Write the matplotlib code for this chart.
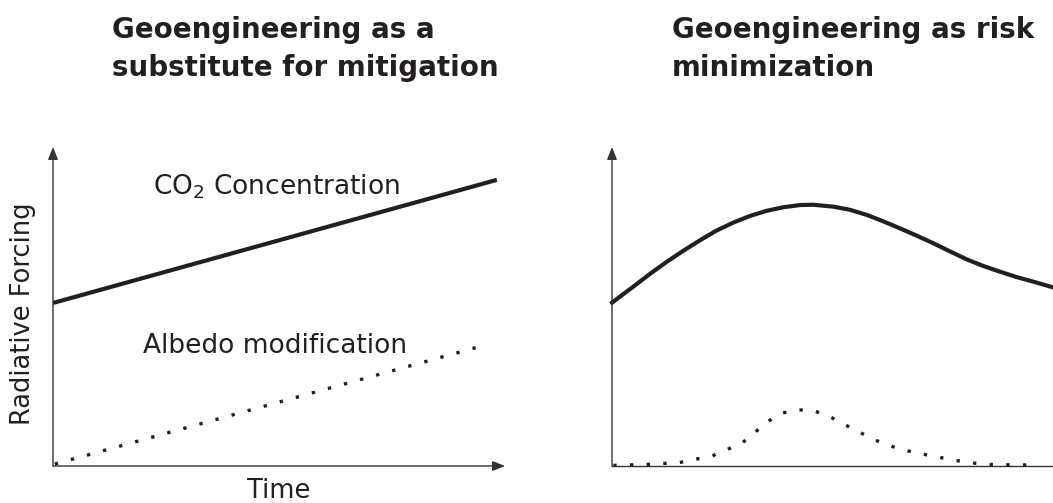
import matplotlib
matplotlib.use('Agg')
import matplotlib.pyplot as plt

plt.rcParams['font.family'] = ['DejaVu Sans']

ink = "#231f20"     # near-black used for text and curves
axis_col = "#333333"

# left panel: geoengineering as a substitute (straight lines)
sub_time = [0.0, 9.82]
sub_co2 = [5.11, 8.97]
sub_albedo_time = [0.04, 9.56]
sub_albedo = [0.06, 3.79]

# right panel: risk minimization
risk_time = [0.0, 0.48, 0.86, 1.24, 1.62, 2.00, 2.37, 2.75, 3.13, 3.51, 3.88,
             4.26, 4.56, 5.02, 5.40, 5.78, 6.15, 6.53, 6.91, 7.29, 7.66,
             8.04, 8.42, 8.80, 9.18, 9.55, 10.0]
risk_co2 = [5.12, 5.62, 6.02, 6.40, 6.75, 7.08, 7.38, 7.63, 7.84, 8.00, 8.11,
            8.18, 8.19, 8.13, 8.03, 7.87, 7.67, 7.45, 7.22, 6.98, 6.73,
            6.48, 6.27, 6.09, 5.92, 5.78, 5.60]
risk_albedo_time = [0.03, 0.79, 1.54, 2.28, 2.95, 3.53, 3.83, 4.21, 4.56,
                    4.92, 5.26, 5.60, 5.92, 6.26, 6.62, 6.98, 7.36, 7.72,
                    8.10, 8.47, 8.85, 9.59]
risk_albedo = [0.02, 0.05, 0.11, 0.32, 0.72, 1.39, 1.65, 1.76, 1.74, 1.56,
               1.31, 1.07, 0.84, 0.65, 0.50, 0.39, 0.29, 0.19, 0.11, 0.05,
               0.04, 0.03]

title_left = ["Geoengineering as a", "substitute for mitigation"]
title_right = ["Geoengineering as risk", "minimization"]

W, H = 1053, 503
fig = plt.figure(figsize=(W / 100, H / 100), dpi=100)


def px_axes(left, right, top, bottom):
    # build axes from pixel edges (top-left origin)
    return fig.add_axes([left / W, (H - bottom) / H, (right - left) / W, (bottom - top) / H])


def draw_frame(ax, x_arrow=True):
    ax.set_xlim(0, 10)
    ax.set_ylim(0, 10)
    ax.axis("off")
    arrow = dict(arrowstyle="-|>,head_length=0.75,head_width=0.3", color=axis_col, lw=1.0,
                 shrinkA=0, shrinkB=0)
    ax.annotate("", xy=(0, 10), xytext=(0, 0), xycoords="data", arrowprops=arrow,
                annotation_clip=False)
    if x_arrow:
        ax.annotate("", xy=(10, 0), xytext=(0, 0), xycoords="data", arrowprops=arrow,
                    annotation_clip=False)
    else:
        ax.plot([0, 10], [0, 0], color=axis_col, lw=1.0, clip_on=False)


def fig_title(x, lines):
    # two lines placed on their own baselines
    for line, base in zip(lines, [38, 76]):
        fig.text(x / W, 1 - base / H, line, fontsize=20, fontweight="bold", color=ink,
                 ha="left", va="baseline")


ax1 = px_axes(53, 505, 147, 466)
draw_frame(ax1)
ax1.plot(sub_time, sub_co2, color=ink, lw=3.0, solid_capstyle="butt", clip_on=False)
ax1.plot(sub_albedo_time, sub_albedo, color=ink, lw=2.4, ls=(0, (1, 4.0)), clip_on=False)
ax1.text(2.21, 8.50, "CO$_2$ Concentration", fontsize=19, color=ink, ha="left", va="baseline")
ax1.text(1.99, 3.53, "Albedo modification", fontsize=19, color=ink, ha="left", va="baseline")
ax1.text(-0.66, 4.76, "Radiative Forcing", fontsize=18.5, color=ink, rotation=90,
         ha="center", va="center")
ax1.text(5.0, -1.0, "Time", fontsize=18.5, color=ink, ha="center", va="baseline")

ax2 = px_axes(612, 1053, 147, 466)
draw_frame(ax2, x_arrow=False)
ax2.plot(risk_time, risk_co2, color=ink, lw=3.0, clip_on=False)
ax2.plot(risk_albedo_time, risk_albedo, color=ink, lw=2.4, ls=(0, (1, 4.0)), clip_on=False)

fig_title(112, title_left)
fig_title(672, title_right)

plt.savefig("out.png", dpi=100)
plt.close()
